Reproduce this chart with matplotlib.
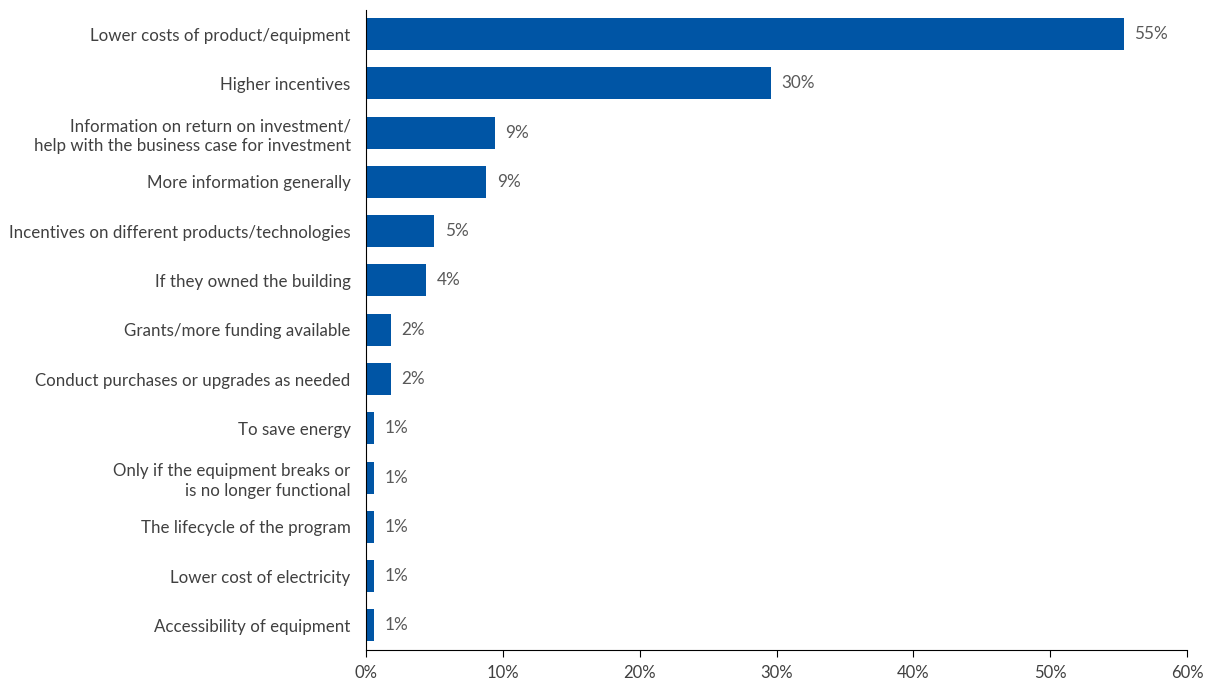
import numpy as np
import matplotlib
matplotlib.use('Agg')
import matplotlib.pyplot as plt
from matplotlib.ticker import FuncFormatter

plt.rcParams['font.family'] = ['Lato', 'DejaVu Sans']

reasons = ['Lower costs of product/equipment',
           'Higher incentives',
           'Information on return on investment/\nhelp with the business case for investment',
           'More information generally',
           'Incentives on different products/technologies',
           'If they owned the building',
           'Grants/more funding available',
           'Conduct purchases or upgrades as needed',
           'To save energy',
           'Only if the equipment breaks or\nis no longer functional',
           'The lifecycle of the program',
           'Lower cost of electricity',
           'Accessibility of equipment']
share = [55.4, 29.6, 9.4, 8.8, 5.0, 4.4, 1.8, 1.8, 0.6, 0.6, 0.6, 0.6, 0.6]

BAR_COLOR = '#0055a5'
TEXT_COLOR = '#404040'

fig = plt.figure(figsize=(12.1, 6.82), dpi=100)
ax = fig.add_axes([0.3025, 0.047, 0.6785, 0.939])

y = np.arange(len(reasons))
ax.barh(y, share, height=0.65, color=BAR_COLOR)
for yi, v in zip(y, share):
    ax.text(v + 0.75, yi, '%d%%' % round(v), va='center', ha='left',
            fontsize=12.3, color='#595959')

ax.set_ylim(len(reasons) - 0.5, -0.5)
ax.set_xlim(0, 60)
ax.set_xticks(np.arange(0, 61, 10))
ax.xaxis.set_major_formatter(FuncFormatter(lambda x, p: '%d%%' % x))
ax.set_yticks(y)
ax.set_yticklabels(reasons, fontsize=12.2, color=TEXT_COLOR, linespacing=1.3)
ax.tick_params(axis='y', length=0, pad=11)
ax.tick_params(axis='x', length=5, direction='out', labelsize=12,
               labelcolor=TEXT_COLOR, pad=6)
for s in ['top', 'right']:
    ax.spines[s].set_visible(False)
ax.spines['left'].set_color('black')
ax.spines['bottom'].set_color('black')

fig.savefig('out.png', dpi=100)
